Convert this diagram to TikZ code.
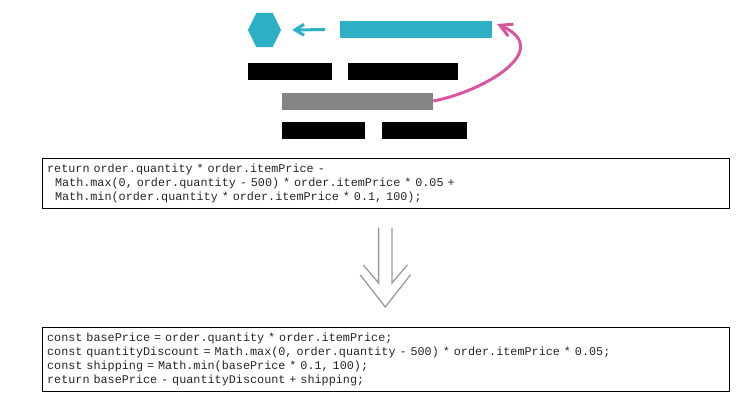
\documentclass[tikz,border=0pt]{standalone}
\usepackage{fontspec}
\usepackage{tikz}
\usetikzlibrary{arrows.meta,shapes.geometric}

\newfontfamily\codefont{Liberation Mono}[WordSpace={1,0,0}]
\definecolor{fnteal}{HTML}{2BB0C6}
\definecolor{inlinepink}{HTML}{D9579D}
\definecolor{tempgray}{HTML}{858585}
\definecolor{flowgray}{HTML}{9A9A9A}

\tikzset{
	bar/.style={rectangle, inner sep=0pt, minimum height=17pt, fill=black},
	codebox/.style={draw=black, line width=1.3pt, anchor=north west, align=left,
		text width=678pt, inner xsep=4.5pt, inner ysep=5pt, text=black!85,
		font=\codefont\fontsize{11.8}{14}\selectfont},
}

\begin{document}
\begin{tikzpicture}[x=1pt,y=-1pt]
\useasboundingbox (0,0) rectangle (755,408);

\begin{scope}[every node/.style={bar}]
	%Row 1
	\node[regular polygon, regular polygon sides=6, minimum size=39.3pt,
		transform shape, xscale=0.84, fill=fnteal] (result) at (264.5, 30) {};
	\node[minimum width=152pt, fill=fnteal] (func) at (416, 29.5) {};
	
	%Row 2
	\node[minimum width=84pt] (stmt_1^1) at (290, 71.5) {};
	\node[minimum width=110pt] (stmt_1^2) at (403, 71.5) {};
	
	%Row 3
	\node[minimum width=151pt, fill=tempgray] (temp) at (357.5, 101) {};
	
	%Row 4
	\node[minimum width=83pt] (stmt_2^1) at (323.5, 130) {};
	\node[minimum width=85pt] (stmt_2^2) at (424.5, 130) {};
\end{scope}

\coordinate (curl) at (497, 24);

%Code
\node[codebox, minimum height=50pt] (before) at (42, 158) {%
return order.quantity * order.itemPrice -\\
\ \ Math.max(0, order.quantity - 500) * order.itemPrice * 0.05 +\\
\ \ Math.min(order.quantity * order.itemPrice * 0.1, 100);};

\node[codebox, minimum height=64pt] (after) at (42, 327) {%
const basePrice = order.quantity * order.itemPrice;\\
const quantityDiscount = Math.max(0, order.quantity - 500) * order.itemPrice * 0.05;\\
const shipping = Math.min(basePrice * 0.1, 100);\\
return basePrice - quantityDiscount + shipping;};

\begin{scope}[style={line width=3pt}]
	\draw [fnteal, -{Straight Barb[length=9pt,width=11pt]}, shorten <=15pt, shorten >=11pt]
		(func.west) -- (result.east);
	\draw [inlinepink, -{Straight Barb[length=12pt,width=13pt]}]
		(temp.east) .. controls (482, 92) and (556, 50) .. (curl);
\end{scope}

%Refactoring arrow
\coordinate (dtip) at (385.3, 307);
\begin{scope}[shift={(dtip)}, style={line width=1.3pt, line cap=round}]
	\draw[flowgray] (-6.7, -79) -- (-6.7, -24) -- (-22, -42);
	\draw[flowgray] (6.7, -79) -- (6.7, -24) -- (22, -42);
	\draw[flowgray] (-25, -32) -- (0, 0) -- (25, -32);
\end{scope}

\end{tikzpicture}
\end{document}
